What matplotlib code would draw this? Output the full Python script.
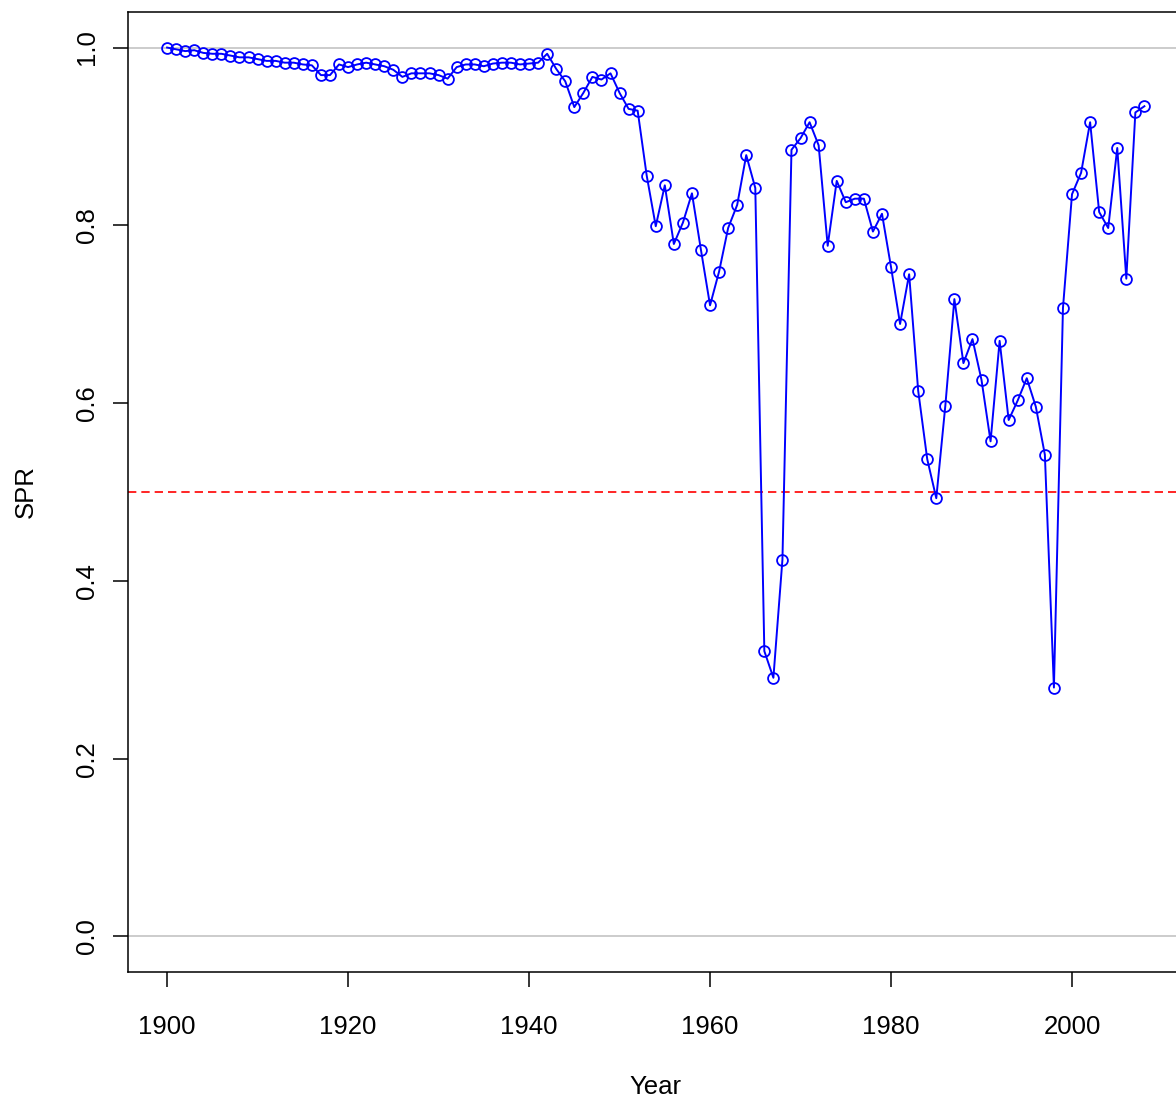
import matplotlib
matplotlib.use("Agg")
import matplotlib.pyplot as plt

# SPR by year
years = list(range(1900, 2009))
spr = [
    1.000, 0.998, 0.996, 0.997, 0.994, 0.993, 0.993, 0.991, 0.989, 0.989,  # 1900s
    0.987, 0.985, 0.985, 0.983, 0.983, 0.981, 0.980, 0.969, 0.969, 0.981,  # 1910s
    0.978, 0.981, 0.983, 0.981, 0.979, 0.975, 0.967, 0.971, 0.971, 0.971,  # 1920s
    0.969, 0.965, 0.978, 0.981, 0.981, 0.979, 0.982, 0.983, 0.983, 0.981,  # 1930s
    0.982, 0.983, 0.993, 0.976, 0.962, 0.933, 0.949, 0.967, 0.964, 0.971,  # 1940s
    0.949, 0.931, 0.929, 0.856, 0.799, 0.845, 0.779, 0.803, 0.836, 0.772,  # 1950s
    0.710, 0.748, 0.797, 0.823, 0.879, 0.842, 0.321, 0.291, 0.424, 0.885,  # 1960s
    0.898, 0.916, 0.890, 0.777, 0.850, 0.826, 0.830, 0.830, 0.793, 0.813,  # 1970s
    0.753, 0.689, 0.745, 0.614, 0.537, 0.493, 0.597, 0.717, 0.645, 0.672,  # 1980s
    0.626, 0.557, 0.670, 0.581, 0.603, 0.628, 0.596, 0.542, 0.280, 0.707,  # 1990s
    0.835, 0.859, 0.916, 0.815, 0.797, 0.887, 0.740, 0.927, 0.934,         # 2000s
]
target = 0.5
x_ticks = [1900, 1920, 1940, 1960, 1980, 2000]
y_ticks = [0.0, 0.2, 0.4, 0.6, 0.8, 1.0]

plt.rcParams['font.family'] = ['Liberation Sans', 'DejaVu Sans']

W, H = 1176, 1101
fig = plt.figure(figsize=(W / 100, H / 100), dpi=100)
# plot region in pixels: left 128, right 1183.5 (past the edge), top 12, bottom 972
ax = fig.add_axes([128 / W, (H - 972) / H, (1183.5 - 128) / W, 960 / H])

ax.axhline(0, color='#bebebe', lw=1.1, zorder=1)
ax.axhline(1, color='#bebebe', lw=1.1, zorder=1)
ax.axhline(target, color='red', lw=1.2, linestyle=(0, (5, 3)), zorder=2)

ax.plot(years, spr, color='blue', lw=1.4, marker='o', markersize=7.8,
        markerfacecolor='none', markeredgecolor='blue', markeredgewidth=1.3, zorder=3)

rng = years[-1] - years[0]
ax.set_xlim(years[0] - 0.04 * rng, years[-1] + 0.04 * rng)
ax.set_ylim(-0.04, 1.04)

ax.set_xticks(x_ticks)
ax.set_xticklabels([str(v) for v in x_ticks])
ax.set_yticks(y_ticks)
ax.set_yticklabels([f'{v:.1f}' for v in y_ticks], rotation=90, va='center')

ax.tick_params(axis='both', direction='out', length=11, width=1.1,
               labelsize=18.5, colors='black')
ax.tick_params(axis='x', pad=20)
ax.tick_params(axis='y', pad=10)
for s in ax.spines.values():
    s.set_linewidth(1.1)

ax.set_xlabel('Year', fontsize=18.5, labelpad=26)
ax.set_ylabel('SPR', fontsize=18.5, labelpad=27)

fig.savefig('out.png', dpi=100)
